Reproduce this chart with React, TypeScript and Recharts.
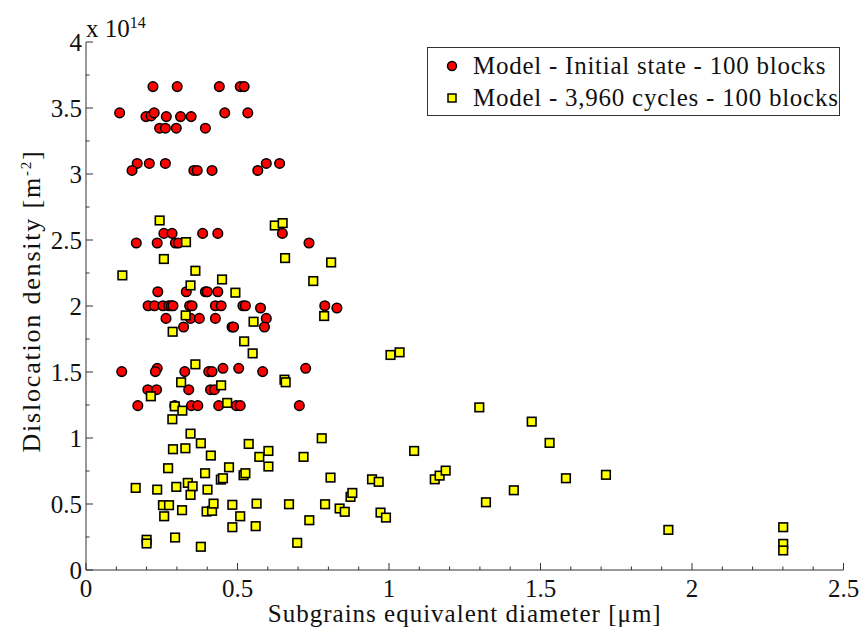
import React from "react";
import {
  ScatterChart,
  Scatter,
  XAxis,
  YAxis,
  Legend,
  Label,
} from "recharts";

// values, y in units of 1e14 m^-2
const redX = [
  0.221, 0.301, 0.44, 0.509, 0.522,
  0.111, 0.198, 0.215, 0.225, 0.265, 0.312, 0.347, 0.458, 0.534,
  0.243, 0.262, 0.298, 0.394,
  0.169, 0.209, 0.262, 0.595, 0.639,
  0.152, 0.356, 0.367, 0.416, 0.567,
  0.257, 0.284, 0.385, 0.435, 0.648,
  0.166, 0.235, 0.295, 0.305, 0.736,
  0.237, 0.331, 0.394, 0.4, 0.435,
  0.205, 0.226, 0.254, 0.273, 0.281, 0.287, 0.342, 0.35, 0.427, 0.446, 0.518, 0.526, 0.788,
  0.576, 0.828,
  0.264, 0.345, 0.374, 0.427, 0.595,
  0.322, 0.482, 0.487, 0.589,
  0.235, 0.452, 0.504, 0.725,
  0.118, 0.229, 0.326, 0.405, 0.416, 0.583,
  0.204, 0.233, 0.339, 0.411, 0.424,
  0.171, 0.293, 0.348, 0.369, 0.438, 0.496, 0.509, 0.704,
];
const redY = [
  3.662, 3.662, 3.662, 3.662, 3.662,
  3.463, 3.435, 3.44, 3.463, 3.435, 3.435, 3.435, 3.463, 3.463,
  3.347, 3.347, 3.347, 3.347,
  3.08, 3.08, 3.08, 3.08, 3.08,
  3.027, 3.027, 3.027, 3.027, 3.027,
  2.55, 2.55, 2.55, 2.55, 2.55,
  2.477, 2.477, 2.477, 2.477, 2.477,
  2.108, 2.108, 2.108, 2.108, 2.108,
  2.002, 2.002, 2.002, 2.002, 2.002, 2.002, 2.002, 2.002, 2.002, 2.002, 2.002, 2.002, 2.002,
  1.985, 1.985,
  1.906, 1.906, 1.906, 1.906, 1.906,
  1.841, 1.841, 1.841, 1.841,
  1.528, 1.528, 1.528, 1.528,
  1.503, 1.503, 1.503, 1.503, 1.503, 1.503,
  1.366, 1.366, 1.366, 1.366, 1.366,
  1.245, 1.245, 1.245, 1.245, 1.245, 1.245, 1.245, 1.245,
];

const yellowX = [
  0.243, 0.623, 0.649, 0.33, 0.257, 0.657, 0.809, 0.12, 0.361, 0.449,
  0.75, 0.345, 0.493, 0.329, 0.786, 0.286, 0.553, 0.522, 0.55, 0.361,
  0.655, 0.659, 0.314, 0.446, 0.214, 0.293, 0.318, 0.466, 0.285, 0.345,
  0.379, 0.287, 0.328, 0.412, 0.537, 0.572, 0.602, 0.602, 0.718, 0.778,
  0.271, 0.472, 0.393, 0.52, 0.526, 0.445, 0.452, 0.807, 0.944, 0.966,
  0.164, 0.235, 0.298, 0.336, 0.352, 0.401, 0.345, 0.254, 0.274, 0.317,
  0.258, 0.398, 0.416, 0.421, 0.483, 0.509, 0.563, 0.483, 0.56, 0.67,
  0.737, 0.789, 0.837, 0.854, 0.873, 0.879, 0.972, 0.2, 0.2, 0.294,
  0.379, 0.697, 1.298, 1.471, 1.53, 1.083, 0.99, 1.151, 1.167, 1.187,
  1.32, 1.412, 1.584, 1.716, 1.005, 1.035, 1.922, 2.301, 2.301, 2.301,
];
const yellowY = [
  2.648, 2.61, 2.628, 2.484, 2.356, 2.363, 2.33, 2.232, 2.267, 2.201,
  2.189, 2.156, 2.101, 1.929, 1.924, 1.805, 1.881, 1.732, 1.641, 1.558,
  1.442, 1.422, 1.422, 1.399, 1.316, 1.24, 1.207, 1.266, 1.142, 1.033,
  0.96, 0.915, 0.922, 0.867, 0.955, 0.857, 0.902, 0.784, 0.857, 0.998,
  0.771, 0.778, 0.733, 0.718, 0.733, 0.685, 0.695, 0.7, 0.687, 0.668,
  0.622, 0.609, 0.63, 0.66, 0.634, 0.609, 0.569, 0.491, 0.491, 0.453,
  0.407, 0.443, 0.448, 0.503, 0.494, 0.407, 0.503, 0.324, 0.332, 0.498,
  0.377, 0.498, 0.466, 0.441, 0.554, 0.584, 0.435, 0.229, 0.201, 0.246,
  0.176, 0.206, 1.232, 1.124, 0.963, 0.902, 0.397, 0.687, 0.715, 0.753,
  0.513, 0.604, 0.695, 0.721, 1.629, 1.649, 0.304, 0.324, 0.198, 0.148,
];

const xTicks = Array.from({ length: 26 }, (_, i) => +(i * 0.1).toFixed(1));
const yTicks = Array.from({ length: 17 }, (_, i) => i * 0.25);

const seriesNames = [
  "Model - Initial state - 100 blocks",
  "Model - 3,960 cycles - 100 blocks",
];

const initialData = redX.map((x, i) => ({ x, y: redY[i] }));
const cyclesData = yellowX.map((x, i) => ({ x, y: yellowY[i] }));

const FONT = "Liberation Serif, DejaVu Serif, serif";
const AXIS = "#333333";
const TEXT = "#111111";
const MAJOR = 7;
const MINOR = 3.5;

const isMajor = (v: number) => Math.abs(v * 2 - Math.round(v * 2)) < 1e-6;
const fmt = (v: number) => String(+v.toFixed(2));

const BottomTick = (props: any) => {
  const { x, y, payload } = props;
  const major = isMajor(payload.value);
  return (
    <g>
      <line x1={x} y1={y} x2={x} y2={y - (major ? MAJOR : MINOR)} stroke={AXIS} />
      {major && (
        <text x={x} y={y + 27} textAnchor="middle" style={{ fontFamily: FONT, fontSize: 25 }} fill={TEXT}>
          {fmt(payload.value)}
        </text>
      )}
    </g>
  );
};

const TopTick = (props: any) => {
  const { x, y, payload } = props;
  const major = isMajor(payload.value);
  return <line x1={x} y1={y} x2={x} y2={y + (major ? MAJOR : MINOR)} stroke={AXIS} />;
};

const LeftTick = (props: any) => {
  const { x, y, payload } = props;
  const major = isMajor(payload.value);
  return (
    <g>
      <line x1={x} y1={y} x2={x + (major ? MAJOR : MINOR)} y2={y} stroke={AXIS} />
      {major && (
        <text x={x - 4} y={y + 9} textAnchor="end" style={{ fontFamily: FONT, fontSize: 25 }} fill={TEXT}>
          {fmt(payload.value)}
        </text>
      )}
    </g>
  );
};

const RightTick = (props: any) => {
  const { x, y, payload } = props;
  const major = isMajor(payload.value);
  return <line x1={x} y1={y} x2={x - (major ? MAJOR : MINOR)} y2={y} stroke={AXIS} />;
};

const RedDot = (p: any) => (
  <circle cx={p.cx} cy={p.cy} r={4.8} fill="#ff0000" stroke="#000" strokeWidth={1.5} />
);
const YellowSquare = (p: any) => (
  <rect x={p.cx - 4.3} y={p.cy - 4.3} width={8.6} height={8.6} fill="#ffff00" stroke="#000" strokeWidth={1.6} />
);

const YTitle = (props: any) => {
  const { viewBox } = props;
  const cx = 40;
  const cy = viewBox.y + viewBox.height / 2 - 5;
  return (
    <g fill={TEXT} style={{ fontFamily: FONT }}>
      <text
        x={cx}
        y={cy}
        transform={`rotate(-90, ${cx}, ${cy})`}
        textAnchor="middle"
        style={{ fontFamily: FONT, fontSize: 26, letterSpacing: 1.8 }}
      >
        Dislocation density [m<tspan dy={-9} fontSize={15}>-2</tspan>
        <tspan dy={9}>]</tspan>
      </text>
      <text x={viewBox.x + viewBox.width} y={37} style={{ fontFamily: FONT, fontSize: 25 }}>
        x 10<tspan dy={-9} fontSize={16}>14</tspan>
      </text>
    </g>
  );
};

const XTitle = (props: any) => {
  const { viewBox } = props;
  return (
    <text
      x={viewBox.x + viewBox.width / 2}
      y={622}
      textAnchor="middle"
      style={{ fontFamily: FONT, fontSize: 25, letterSpacing: 1 }}
      fill={TEXT}
    >
      Subgrains equivalent diameter [μm]
    </text>
  );
};

const LegendBox = () => (
  <div
    style={{
      width: 411,
      height: 67,
      border: "1px solid #333",
      background: "#fff",
      fontFamily: FONT,
      fontSize: 25,
      letterSpacing: 0.75,
      color: TEXT,
      boxSizing: "content-box",
    }}
  >
    {seriesNames.map((name, i) => (
      <div key={name} style={{ height: 32, marginTop: i === 0 ? 2 : 0, display: "flex", alignItems: "center", whiteSpace: "nowrap" }}>
        <svg width={45} height={32} style={{ flex: "none" }}>
          {i === 0 ? (
            <circle cx={24} cy={16} r={4.5} fill="#ff0000" stroke="#000" strokeWidth={1.5} />
          ) : (
            <rect x={20} y={12} width={8} height={8} fill="#ffff00" stroke="#000" strokeWidth={1.5} />
          )}
        </svg>
        <span>{name}</span>
      </div>
    ))}
  </div>
);

export default function App() {
  return (
    <div style={{ position: "absolute", left: 0, top: 0, background: "#fff" }}>
      <ScatterChart width={861} height={630} margin={{ top: 42, right: 17.5, bottom: 30, left: 26 }}>
        <XAxis
          type="number"
          dataKey="x"
          domain={[0, 2.5]}
          ticks={xTicks}
          interval={0}
          height={30}
          tickSize={0}
          tickMargin={0}
          tickLine={false}
          tick={<BottomTick />}
          axisLine={{ stroke: AXIS }}
          allowDataOverflow
        >
          <Label content={<XTitle />} />
        </XAxis>
        <XAxis
          xAxisId="top"
          orientation="top"
          type="number"
          domain={[0, 2.5]}
          ticks={xTicks}
          interval={0}
          height={0}
          tickSize={0}
          tickMargin={0}
          tickLine={false}
          tick={<TopTick />}
          axisLine={{ stroke: AXIS }}
          allowDataOverflow
        />
        <YAxis
          type="number"
          dataKey="y"
          domain={[0, 4]}
          ticks={yTicks}
          interval={0}
          width={60}
          tickSize={0}
          tickMargin={0}
          tickLine={false}
          tick={<LeftTick />}
          axisLine={{ stroke: AXIS }}
          allowDataOverflow
        >
          <Label content={<YTitle />} />
        </YAxis>
        <YAxis
          yAxisId="right"
          orientation="right"
          type="number"
          domain={[0, 4]}
          ticks={yTicks}
          interval={0}
          width={0}
          tickSize={0}
          tickMargin={0}
          tickLine={false}
          tick={<RightTick />}
          axisLine={{ stroke: AXIS }}
          allowDataOverflow
        />
        <Legend
          layout="vertical"
          align="center"
          verticalAlign="middle"
          content={<LegendBox />}
          wrapperStyle={{ left: 427, top: 47, width: 413, height: 69 }}
        />
        <Scatter name={seriesNames[0]} data={initialData} shape={RedDot} isAnimationActive={false} />
        <Scatter name={seriesNames[1]} data={cyclesData} shape={YellowSquare} isAnimationActive={false} />
      </ScatterChart>
    </div>
  );
}
